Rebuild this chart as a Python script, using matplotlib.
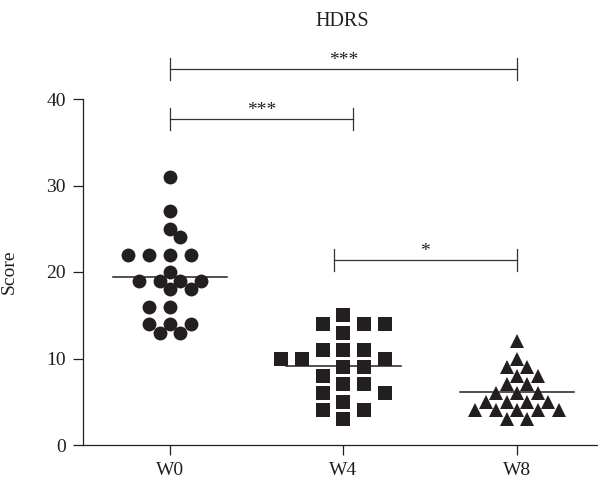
import numpy as np
import matplotlib.pyplot as plt

plt.rcParams['font.family'] = ['Liberation Serif', 'DejaVu Serif']

# HDRS scores per visit
groups = ["W0", "W4", "W8"]
w0 = [31, 27, 25, 24, 22, 22, 22, 22, 20, 19, 19, 19, 19, 18, 18, 16, 16, 14, 14, 14, 13, 13]
w4 = [15, 14, 14, 14, 13, 11, 11, 11, 10, 10, 10, 9, 9, 8, 7, 7, 6, 6, 5, 4, 4, 3]
w8 = [12, 10, 9, 9, 8, 8, 7, 7, 6, 6, 6, 5, 5, 5, 5, 4, 4, 4, 4, 4, 3, 3]
markers = ["o", "s", "^"]
# significance comparisons (group a, group b, label)
comparisons = [(0, 2, "***"), (0, 1, "***"), (1, 2, "*")]

ink = "#231f20"

fig = plt.figure(figsize=(5.98, 4.79), dpi=100)
ax = fig.add_axes([83 / 598, 34 / 479, 515 / 598, 346 / 479])
ax.set_xlim(-0.501, 2.467)
ax.set_ylim(0, 40)


def swarm_offsets(values, step_px, diam_px):
    # beeswarm on a grid of horizontal slots, in pixel space;
    # ties between left/right are taken in turn
    x0, y0 = ax.transData.transform((0, 0))
    x1, y1 = ax.transData.transform((1, 1))
    sx, sy = x1 - x0, y1 - y0
    vals = np.asarray(values, dtype=float)
    offs = np.zeros(len(vals))
    placed = []
    side = 1
    for i in np.argsort(-vals, kind="stable"):
        py = vals[i] * sy
        cands = [0] + [s * j for j in range(1, 40) for s in (side, -side)]
        for c in cands:
            px = c * step_px
            if all((px - qx) ** 2 + (py - qy) ** 2 >= diam_px ** 2 for qx, qy in placed):
                break
        if c != 0:
            side = -side
        placed.append((px, py))
        offs[i] = px / sx
    return offs


sizes = [10, 9.6, 9.6]
spacing = [13.0, 14.5, 13.0]
for i, (vals, m, ms, d) in enumerate(zip([w0, w4, w8], markers, sizes, spacing)):
    offs = swarm_offsets(vals, 10.4, d)
    ax.plot(i + offs, vals, linestyle="none", marker=m, markersize=ms,
            color=ink, markeredgewidth=0, zorder=3)
    mean = np.mean(vals)
    ax.plot([i - 0.33, i + 0.33], [mean, mean], color=ink, lw=1.1, zorder=4)

# brackets
levels = {(0, 2): 43.5, (0, 1): 37.7, (1, 2): 21.4}
shrink = 0.057
for a, b, lab in comparisons:
    y = levels[(a, b)]
    xa = a - shrink if a == 1 else a
    xb = b + shrink if b == 1 else b
    ax.plot([xa, xb], [y, y], color="#333333", lw=0.9, clip_on=False)
    for xx in (xa, xb):
        ax.plot([xx, xx], [y - 1.25, y + 1.25], color="#333333", lw=0.9, clip_on=False)
    ax.text((xa + xb) / 2, y, lab, ha="center", va="bottom",
            fontsize=14, color=ink, clip_on=False)

ax.set_xticks(range(len(groups)))
ax.set_xticklabels(groups)
ax.set_yticks([0, 10, 20, 30, 40])
ax.tick_params(direction="out", length=7.2, width=0.9, colors=ink,
               labelsize=14, pad=5)
for s in ("top", "right"):
    ax.spines[s].set_visible(False)
for s in ("left", "bottom"):
    ax.spines[s].set_linewidth(0.9)
    ax.spines[s].set_color(ink)

ax.set_ylabel("Score", fontsize=14, color=ink)
ax.yaxis.set_label_coords(-0.126, 0.5)
fig.text(342 / 598, 1 - 21 / 479, "HDRS", ha="center", va="center",
         fontsize=14.5, color=ink)

fig.savefig("out.png", dpi=100)
